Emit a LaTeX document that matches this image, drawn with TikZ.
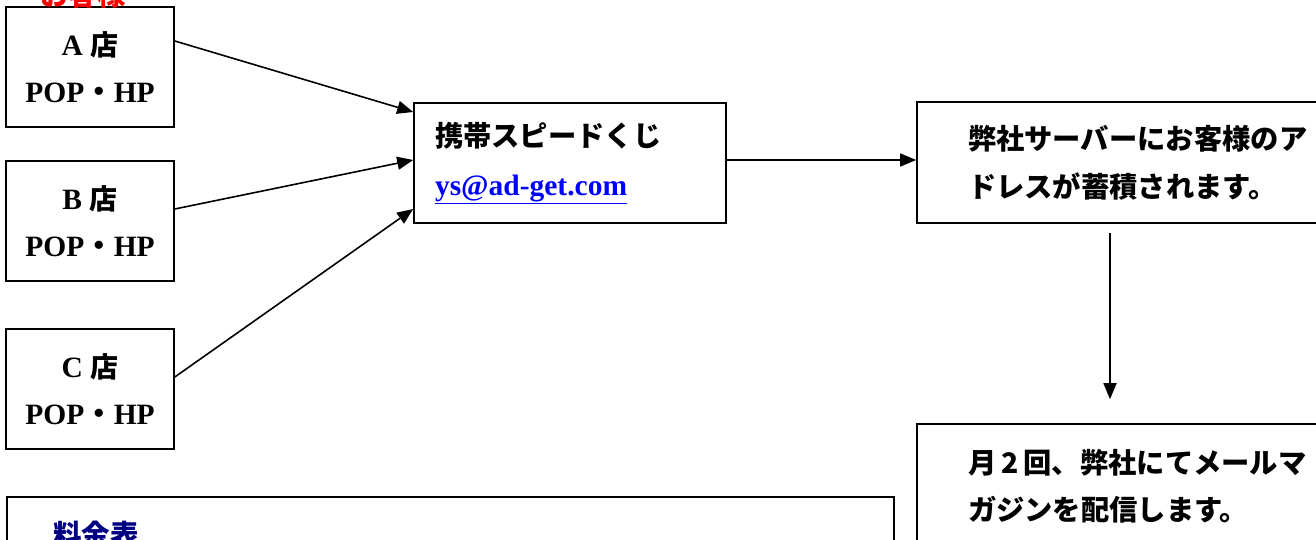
\documentclass[tikz,border=0pt]{standalone}
\usepackage{fontspec}
\setmainfont{Liberation Serif}
\newfontfamily\jp{Noto Sans CJK JP}
\usetikzlibrary{arrows.meta}
\definecolor{navy}{HTML}{000080}
\definecolor{linkblue}{HTML}{0000FF}
\begin{document}
\begin{tikzpicture}[x=1pt,y=-1pt,
  box/.style={draw, line width=1.6pt, inner sep=0pt, font=\bfseries\fontsize{29.5}{47}\selectfont},
  arr/.style={-{Triangle[length=16pt,width=13pt]}, line width=1.6pt},
  title/.style={anchor=base west, inner sep=0pt, font=\bfseries\fontsize{28.5}{30}\selectfont}]
\useasboundingbox (0,0) rectangle (1316,540);
\clip (0,0) rectangle (1316,540);
% shop boxes
\node[box, minimum width=168, minimum height=120, align=center] (A) at (90,67) {A {\jp\fontsize{28}{47}\selectfont 店}\\POP{\jp ・}HP};
\node[box, minimum width=168, minimum height=120, align=center] (B) at (90,221) {B {\jp\fontsize{28}{47}\selectfont 店}\\POP{\jp ・}HP};
\node[box, minimum width=168, minimum height=120, align=center] (C) at (90,389) {C {\jp\fontsize{28}{47}\selectfont 店}\\POP{\jp ・}HP};
% mobile lottery
\node[box, minimum width=312, minimum height=120, text width=270, align=left,
      font=\bfseries\fontsize{28.3}{49}\selectfont] (mob) at (570,163)
  {{\jp 携帯スピードくじ}\\{\fontsize{29.5}{49}\selectfont\color{linkblue}\underline{ys@ad-get.com}}};
% server
\node[box, minimum width=447, minimum height=121, text width=345, align=left,
      font=\bfseries\fontsize{28.3}{48}\selectfont] (srv) at (1140.5,162.5)
  {\jp 弊社サーバーにお客様のア\\ドレスが蓄積されます。};
% mail magazine
\node[box, minimum width=447, minimum height=124, text width=345, align=left,
      font=\bfseries\fontsize{28.3}{47}\selectfont] (mail) at (1140.5,486)
  {\jp 月\hspace{5pt}2\hspace{5pt}回、弊社にてメールマ\\ガジンを配信します。};
% fee table
\node[draw, line width=2pt, minimum width=887, minimum height=120, anchor=north west, inner sep=0pt] (fee) at (6,496) {};
\node[title, text=navy] (feetitle) at (53,545) {\jp 料金表};
% customers label (cut off at top)
\node[title, text=red] (cust) at (40,6) {\jp お客様};
% connectors
\coordinate (dx) at (1110,0);
\draw[arr] ([yshift=26pt]A.east) -- ([yshift=51pt]mob.west);
\draw[arr] ([yshift=12pt]B.east) -- ([yshift=3pt]mob.west);
\draw[arr] ([yshift=12pt]C.east) -- ([yshift=-46pt]mob.west);
\draw[arr] ([yshift=3pt]mob.east) -- ([yshift=3pt]mob.east -| srv.west);
\draw[arr, shorten <=9pt, shorten >=24pt] (srv.south -| dx) -- (mail.north -| dx);
\end{tikzpicture}
\end{document}
